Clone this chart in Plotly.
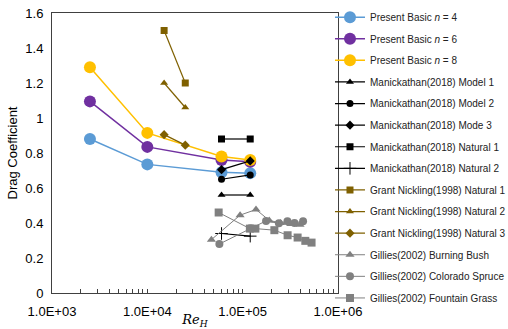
import plotly.graph_objects as go

# ---- data ----
present_x = [2500, 10000, 60000, 120000]
present_n4 = [0.88, 0.735, 0.69, 0.685]
present_n6 = [1.095, 0.835, 0.76, 0.75]
present_n8 = [1.29, 0.915, 0.78, 0.76]

manick_x = [60000, 120000]
manick_model1 = [0.56, 0.56]
manick_model2 = [0.65, 0.675]
manick_mode3 = [0.705, 0.755]
manick_nat1 = [0.88, 0.88]
manick_nat2 = [0.34, 0.325]

grant_x = [15000, 25000]
grant_nat1 = [1.5, 1.2]
grant_nat2 = [1.2, 1.06]
grant_nat3 = [0.905, 0.845]

bush_x = [47000, 94000, 138000, 190000, 250000, 320000, 400000]
bush_y = [0.305, 0.445, 0.477, 0.415, 0.40, 0.395, 0.39]
spruce_x = [57000, 120000, 176000, 240000, 295000, 350000, 430000]
spruce_y = [0.28, 0.37, 0.412, 0.398, 0.41, 0.40, 0.41]
grass_x = [56000, 119000, 136000, 215000, 296000, 377000, 454000, 528000]
grass_y = [0.46, 0.368, 0.368, 0.359, 0.33, 0.317, 0.298, 0.288]

x_tickvals = [1e3, 1e4, 1e5, 1e6]
x_ticktext = ["1.0E+03", "1.0E+04", "1.0E+05", "1.0E+06"]

BLUE = "#5B9BD5"
PURPLE = "#7030A0"
GOLD = "#FFC000"
BROWN = "#7F6000"
GRAY = "#808080"
BLACK = "#000000"

fig = go.Figure()

def add(name, x, y, color, symbol, size, lw=1.2):
    fig.add_trace(go.Scatter(
        x=x, y=y, name=name, mode="lines+markers", legendgroup=name,
        line=dict(color=color, width=lw),
        marker=dict(color=color, symbol=symbol, size=size,
                    line=dict(color=color, width=1 if "cross" in symbol else 0)),
    ))

add("Present Basic <i>n</i> = 4", present_x, present_n4, BLUE, "circle", 12, 1.5)
add("Present Basic <i>n</i> = 6", present_x, present_n6, PURPLE, "circle", 12, 1.5)
add("Present Basic <i>n</i> = 8", present_x, present_n8, GOLD, "circle", 12, 1.5)
add("Manickathan(2018) Model 1", manick_x, manick_model1, BLACK, "triangle-up", 7)
add("Manickathan(2018) Model 2", manick_x, manick_model2, BLACK, "circle", 7)
add("Manickathan(2018) Mode 3", manick_x, manick_mode3, BLACK, "diamond", 7)
add("Manickathan(2018) Natural 1", manick_x, manick_nat1, BLACK, "square", 7)
add("Manickathan(2018) Natural 2", manick_x, manick_nat2, BLACK, "cross-thin", 9)
add("Grant Nickling(1998) Natural 1", grant_x, grant_nat1, BROWN, "square", 7)
add("Grant Nickling(1998) Natural 2", grant_x, grant_nat2, BROWN, "triangle-up", 7)
add("Grant Nickling(1998) Natural 3", grant_x, grant_nat3, BROWN, "diamond", 7)
add("Gillies(2002) Burning Bush", bush_x, bush_y, GRAY, "triangle-up", 8, 1)
add("Gillies(2002) Colorado Spruce", spruce_x, spruce_y, GRAY, "circle", 8, 1)
add("Gillies(2002) Fountain Grass", grass_x, grass_y, GRAY, "square", 8, 1)

minor_vals = [m * 10 ** e for e in (3, 4, 5) for m in range(2, 10)]

fig.update_layout(
    width=508, height=329,
    margin=dict(l=52, r=170, t=13, b=36, autoexpand=False),
    paper_bgcolor="white", plot_bgcolor="white",
    font=dict(family="Liberation Sans, Arial, sans-serif", color="#000000", size=13),
    showlegend=True,
    legend=dict(x=0.972, xanchor="left", y=1.037, yanchor="top",
                font=dict(size=10, color="#222"), tracegroupgap=2.6,
                bgcolor="rgba(0,0,0,0)", itemwidth=30, maxheight=329),
    xaxis=dict(type="log", range=[3, 6], tickvals=x_tickvals, ticktext=x_ticktext,
               ticks="inside", ticklen=4, tickcolor="#404040", ticklabelstandoff=6,
               showline=True, linecolor="#404040", linewidth=1, mirror=True,
               showgrid=False, zeroline=False, automargin=False,
               minor=dict(tickvals=minor_vals, ticks="inside", ticklen=4, tickcolor="#404040", showgrid=False),
               title=dict(text="<i>Re<sub>H</sub></i>", font=dict(size=13,
                          family="DejaVu Serif, Liberation Serif, serif"), standoff=3),
               tickfont=dict(size=13)),
    yaxis=dict(range=[0, 1.6], dtick=0.2, ticks="", showline=True, linecolor="#404040",
               linewidth=1, mirror=True, showgrid=False, zeroline=False, automargin=False,
               ticklabelstandoff=5,
               title=dict(text="Drag Coefficient", font=dict(size=13), standoff=4),
               tickfont=dict(size=13)),
)

fig.write_html("out.html", post_script="document.body.style.margin='0';",
               config={"displayModeBar": False})
